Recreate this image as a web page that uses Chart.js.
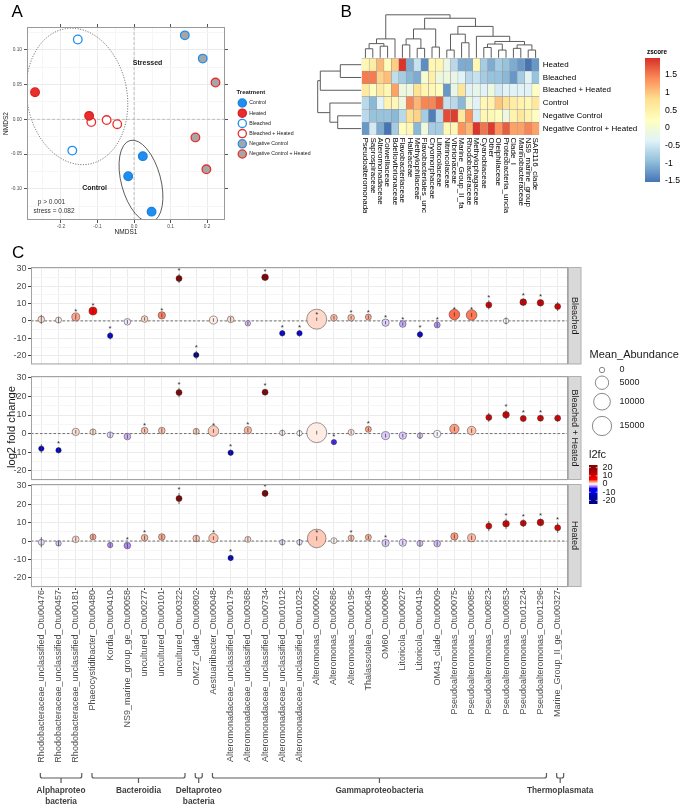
<!DOCTYPE html>
<html>
<head>
<meta charset="utf-8">
<script src="https://cdn.jsdelivr.net/npm/chart.js@4.4.1/dist/chart.umd.min.js"></script>
<style>
html, body { margin: 0; padding: 0; background: #fff; }
#page { position: relative; width: 685px; height: 808px; overflow: hidden; background: #fff; }
canvas { position: absolute; }
.tag { position: absolute; font: 17px "Liberation Sans", Arial, sans-serif; line-height: 17px; color: #000; }
#ytitle { position: absolute; left: 10.5px; top: 427px; transform: translate(-50%, -50%) rotate(-90deg);
  white-space: nowrap; font: 11.2px "Liberation Sans", Arial, sans-serif; color: #1a1a1a; }
</style>
</head>
<body>
<div id="page">
  <canvas id="nmds" style="left:0;top:0" width="316" height="240"></canvas>
  <canvas id="heat" style="left:300px;top:0" width="385" height="213"></canvas>
  <canvas id="c1" style="left:0;top:240px" width="685" height="135"></canvas>
  <canvas id="c3" style="left:0;top:474px" width="685" height="334"></canvas>
  <canvas id="c2" style="left:0;top:340px" width="685" height="170"></canvas>
  <div class="tag" style="left:11.5px;top:2.6px">A</div>
  <div class="tag" style="left:340.5px;top:2.6px">B</div>
  <div class="tag" style="left:12px;top:243.6px">C</div>
  <div id="ytitle">log2 fold change</div>
</div>
<script>
// ---------- panel A: NMDS ----------
const treatments = ['Control', 'Heated', 'Bleached', 'Bleached + Heated', 'Negative Control', 'Negative Control + Heated']
const sampleTreatment = ['Bleached', 'Bleached', 'Heated', 'Heated', 'Bleached + Heated', 'Bleached + Heated', 'Bleached + Heated',
  'Control', 'Control', 'Control', 'Negative Control', 'Negative Control',
  'Negative Control + Heated', 'Negative Control + Heated', 'Negative Control + Heated']
const nmds1 = [-0.154, -0.169, -0.271, -0.123, -0.117, -0.075, -0.046, 0.024, -0.016, 0.048, 0.139, 0.188, 0.223, 0.168, 0.198]
const nmds2 = [0.115, -0.045, 0.039, 0.005, -0.004, -0.001, -0.007, -0.053, -0.082, -0.133, 0.121, 0.0875, 0.053, -0.026, -0.072]
const nmdsXTicks = [-0.2, -0.1, 0, 0.1, 0.2]
const nmdsXTickLabels = ['-0.2', '-0.1', '0.0', '0.1', '0.2']
const nmdsYTicks = [-0.1, -0.05, 0, 0.05, 0.1]
const nmdsYTickLabels = ['-0.10', '-0.05', '0.00', '0.05', '0.10']
const nmdsNotes = [
  { text: 'Stressed', x: 0.037, y: 0.081, bold: true },
  { text: 'Control', x: -0.108, y: -0.0997, bold: true },
  { text: 'p > 0.001', x: -0.226, y: -0.119 },
  { text: 'stress = 0.082', x: -0.219, y: -0.132 }
]
const stressedEllipse = { cx: -0.156, cy: 0.033, rx: 0.137, ry: 0.099, rot: -10, dash: [1, 1.6] }
const controlEllipse = { cx: 0.019, cy: -0.089, rx: 0.054, ry: 0.0606, rot: -15, dash: [] }

// ---------- panel B: heatmap ----------
const heatRows = ['Heated', 'Bleached', 'Bleached + Heated', 'Control', 'Negative Control', 'Negative Control + Heated']
const heatCols = ['Pseudoalteromonadaceae', 'Saprospiraceae', 'Alteromonadaceae', 'Colwelliaceae', 'Bdellovibrionaceae',
  'Flavobacteriaceae', 'Halieaceae', 'Methylophilaceae', 'Flavobacteriales_unclassified', 'Cryomorphaceae', 'Litoricolaceae',
  'Nitrincolaceae', 'Vibrionaceae', 'Marine_Group_II_fa', 'Rhodobacteraceae', 'Methylophagaceae', 'Cyanobiaceae', 'Other',
  'Oleiphilaceae', 'Proteobacteria_unclassified', 'Clade_I', 'Marinobacteraceae', 'NS9_marine_group', 'SAR116_clade']
const zHeated = [0.35, 0.55, 1.1, 0.3, 0.95, 1.95, -1.1, -0.55, -1.35, 0.35, 0.4, -0.15, -0.65, -1.1, -1.1, 0.35, -0.8, -1.1, -0.8, -0.9, -1.1, -1.25, -1.53, -1.25]
const zBleached = [1.5, 1.5, 0.9, 1.05, -0.6, -0.8, -1.0, -1.1, 0.05, 0.5, -0.1, -0.1, -0.2, -0.35, -0.65, -0.55, -0.8, -0.9, -0.9, -1.0, -1.25, -0.8, -0.35, -0.9]
const zBleachedHeated = [0.6, 0.2, 0.6, 0.35, 1.25, -0.1, -0.1, 0.75, 0.4, 0.35, 0.2, -1.25, -0.2, 0.7, -0.35, -0.2, -0.35, -0.1, -0.45, -0.35, -0.35, -0.35, -0.35, 0.2]
const zControl = [-0.65, -1.0, -0.35, 0.45, 0.35, -0.1, 1.45, 1.1, 1.45, 1.45, 1.7, -0.55, -0.65, -1.0, -0.1, -0.35, 0.35, 0.45, 1.0, 0.8, 0.55, 0.45, 0.35, 0.65]
const zNegControl = [-0.65, -0.9, -0.9, -0.9, -1.0, -0.65, 0.8, 0.9, -0.8, -1.45, -0.65, 1.8, 1.9, 0.65, 1.35, -0.45, 0.35, 0.35, 0.2, -0.1, 0.45, 0.65, 0.45, 0.2]
const zNegControlHeated = [-1.25, -0.45, -1.1, -1.53, -0.8, 0.2, 0.35, -1.0, -0.1, -0.8, -0.8, 0.35, 0.35, 1.35, 1.1, 1.95, 1.55, 1.9, 1.35, 1.7, 1.25, 1.25, 1.45, 1.25]
const zscoreRange = [-1.53, 1.98]
const zscoreTicks = [-1.5, -1, -0.5, 0, 0.5, 1, 1.5]
const zscoreTickLabels = ['-1.5', '-1', '-0.5', '0', '0.5', '1', '1.5']
// dendrograms: [left, right, height], leaves are column / row indices
const colTree = [[[[0, 1, 2.1], [2, 3, 2.7], 3.3], 4, 4.4],
  [[[[5, 6, 3.0], [7, 8, 2.2], 4.4], [9, 10, 2.5], 6.7],
   [[[11, 12, 1.8], [13, 14, 3.5], 5.5],
    [15, [[[16, 17, 2.4], [18, 19, 1.8], 3.2], [[20, 21, 2.2], [22, 23, 1.8], 3.0], 3.8], 5.0], 7.3], 9.2], 10]
const rowTree = [[[0, 1, 4.8], 2, 9.4], [3, [4, 5, 5.4], 7.2], 10]

// ---------- panel C: log2 fold change ----------
const otuLabels = ['Rhodobacteraceae_unclassified_Otu00476', 'Rhodobacteraceae_unclassified_Otu00457',
  'Rhodobacteraceae_unclassified_Otu00181', 'Phaeocystidibacter_Otu00480', 'Kordia_Otu00410', 'NS9_marine_group_ge_Otu00058',
  'uncultured_Otu00277', 'uncultured_Otu00101', 'uncultured_Otu00322', 'OM27_clade_Otu00802', 'Aestuariibacter_Otu00048',
  'Alteromonadaceae_unclassified_Otu00179', 'Alteromonadaceae_unclassified_Otu00368', 'Alteromonadaceae_unclassified_Otu00734',
  'Alteromonadaceae_unclassified_Otu01012', 'Alteromonadaceae_unclassified_Otu01023', 'Alteromonas_Otu00002',
  'Alteromonas_Otu00686', 'Alteromonas_Otu00195', 'Thalassotalea_Otu00649', 'OM60_Otu00008', 'Litoricola_Otu00027',
  'Litoricola_Otu00419', 'OM43_clade_Otu00009', 'Pseudoalteromonas_Otu00075', 'Pseudoalteromonas_Otu00085',
  'Pseudoalteromonas_Otu00823', 'Pseudoalteromonas_Otu00853', 'Pseudoalteromonas_Otu01224', 'Pseudoalteromonas_Otu01296',
  'Marine_Group_II_ge_Otu00327']
const lfcBleached = [0.9, 0.5, 2.3, 5.7, -8.5, -0.5, 1.1, 3.2, 24.4, -19.6, 0.5, 0.9, -1.4, 25.1, -7.1, -7.1, 1.0, 1.8, 1.8, 2.2, -1.0, -1.8, -7.8, -2.3, 3.7, 3.4, 9.2, 0.0, 10.8, 10.4, 8.3]
const seBleached = [2.6, 1.6, 1.5, 1.6, 2.2, 1.2, 1.0, 1.2, 2.6, 2.4, 1.0, 1.4, 1.0, 1.8, 1.8, 1.8, 1.0, 1.0, 1.0, 1.0, 1.0, 1.0, 2.2, 1.2, 1.2, 1.2, 2.6, 2.0, 2.0, 1.6, 2.6]
const abundBleached = [120, 30, 530, 530, 0, 120, 120, 290, 30, 0, 530, 120, 0, 120, 0, 0, 16600, 120, 120, 30, 290, 120, 0, 30, 2170, 2170, 30, 0, 120, 120, 30]
const sigBleached = [0, 0, 1, 1, 1, 0, 0, 1, 1, 1, 0, 0, 0, 1, 1, 1, 1, 0, 1, 1, 1, 1, 1, 1, 1, 1, 1, 0, 1, 1, 0]
const lfcBleachedHeated = [-8.1, -9.0, 0.9, 0.9, -0.7, -1.6, 1.6, 1.6, 22.1, 1.2, 1.4, -10.3, 1.8, 22.3, 0.4, 0.2, 0.5, -4.6, 0.7, 2.3, -1.1, -1.1, -1.1, -0.2, 2.5, 1.6, 8.7, 10.1, 8.1, 8.3, 8.3]
const seBleachedHeated = [2.4, 1.6, 1.0, 1.4, 1.4, 1.2, 1.0, 1.2, 2.6, 1.4, 1.0, 1.6, 1.2, 1.6, 1.6, 1.8, 1.0, 1.2, 1.0, 1.0, 1.0, 1.0, 1.8, 1.0, 1.2, 1.2, 2.4, 2.4, 1.6, 1.4, 2.0]
const abundBleachedHeated = [0, 0, 290, 30, 30, 120, 120, 120, 30, 30, 2170, 0, 290, 30, 0, 0, 16600, 0, 30, 30, 530, 290, 0, 290, 1200, 830, 30, 120, 30, 30, 30]
const sigBleachedHeated = [0, 1, 0, 0, 0, 0, 1, 0, 1, 0, 1, 1, 1, 1, 0, 0, 0, 1, 0, 1, 0, 0, 0, 0, 0, 0, 0, 1, 1, 1, 0]
const lfcHeated = [-0.7, -1.3, 0.9, 2.2, -2.2, -2.5, 1.8, 2.2, 23.1, 1.4, 1.6, -9.2, 0.9, 25.9, -0.7, -0.7, 1.4, 0.2, 1.6, 2.0, -1.1, -0.9, -1.3, -1.4, 2.5, 1.8, 8.1, 9.4, 9.7, 10.1, 7.2]
const seHeated = [2.8, 1.4, 1.2, 1.2, 1.4, 1.4, 1.2, 1.2, 3.0, 1.6, 1.0, 1.6, 1.2, 1.8, 1.6, 1.8, 1.2, 1.2, 1.2, 1.0, 1.2, 1.2, 1.6, 1.2, 1.2, 1.2, 2.8, 2.8, 2.0, 2.0, 2.8]
const abundHeated = [30, 0, 120, 30, 0, 120, 120, 120, 30, 120, 1200, 0, 30, 30, 0, 0, 13700, 30, 30, 30, 290, 290, 30, 120, 290, 530, 30, 120, 30, 120, 30]
const sigHeated = [0, 0, 0, 0, 0, 1, 1, 0, 1, 0, 1, 1, 0, 1, 0, 0, 1, 0, 1, 0, 1, 0, 0, 0, 0, 0, 0, 1, 1, 1, 1]
const lfcTicks = [-20, -10, 0, 10, 20, 30]
const abundanceBreaks = [0, 5000, 10000, 15000]
const l2fcBreaks = [20, 10, 0, -10, -20]
const taxonGroups = ['Alphaproteo\nbacteria', 'Bacteroidia', 'Deltaproteo\nbacteria', 'Gammaproteobacteria', 'Thermoplasmata']
const taxonFirst = [0, 3, 9, 10, 30]
const taxonLast = [2, 8, 9, 29, 30]

// ---------- styles ----------
const FONT = '"Liberation Sans", Arial, sans-serif'
Chart.defaults.font.family = FONT
Chart.defaults.color = '#4d4d4d'
const BLUE = '#1f8ef1', RED = '#e92c2c', GREY = '#a6a6a6'
const treatmentFill = { 'Control': BLUE, 'Heated': RED, 'Bleached': '#fff', 'Bleached + Heated': '#fff', 'Negative Control': GREY, 'Negative Control + Heated': GREY }
const treatmentEdge = { 'Control': '#1b80e0', 'Heated': '#d92222', 'Bleached': BLUE, 'Bleached + Heated': RED, 'Negative Control': BLUE, 'Negative Control + Heated': RED }
const zscorePalette = ['#4575B4', '#91BFDB', '#E0F3F8', '#FFFFBF', '#FEE090', '#FC8D59', '#D73027']
const l2fcStops = [[-20, '#00008B'], [-5, '#0000FF'], [0, '#FFFFFF'], [5, '#FF0000'], [20, '#8B0000']]

function hexRgb(h) { const n = parseInt(h.slice(1), 16); return [n >> 16 & 255, n >> 8 & 255, n & 255] }
function rgbLab([r, g, b]) {
  const f = c => { c /= 255; return c <= 0.04045 ? c / 12.92 : Math.pow((c + 0.055) / 1.055, 2.4) }
  const R = f(r), G = f(g), B = f(b)
  const g3 = t => t > 0.008856 ? Math.cbrt(t) : 7.787 * t + 16 / 116
  const X = g3((R * 0.4124 + G * 0.3576 + B * 0.1805) / 0.95047)
  const Y = g3(R * 0.2126 + G * 0.7152 + B * 0.0722)
  const Z = g3((R * 0.0193 + G * 0.1192 + B * 0.9505) / 1.08883)
  return [116 * Y - 16, 500 * (X - Y), 200 * (Y - Z)]
}
function labRgb([L, a, b]) {
  const fy = (L + 16) / 116, fx = a / 500 + fy, fz = fy - b / 200
  const h = t => t * t * t > 0.008856 ? t * t * t : (t - 16 / 116) / 7.787
  const X = h(fx) * 0.95047, Y = h(fy), Z = h(fz) * 1.08883
  const R = X * 3.2406 - Y * 1.5372 - Z * 0.4986
  const G = -X * 0.9689 + Y * 1.8758 + Z * 0.0415
  const B = X * 0.0557 - Y * 0.2040 + Z * 1.0570
  const f = c => { c = c > 0.0031308 ? 1.055 * Math.pow(c, 1 / 2.4) - 0.055 : 12.92 * c; return Math.round(Math.min(1, Math.max(0, c)) * 255) }
  return `rgb(${f(R)},${f(G)},${f(B)})`
}
const l2fcLab = l2fcStops.map(s => rgbLab(hexRgb(s[1])))
function l2fcColor(v) {
  const vs = l2fcStops.map(s => s[0])
  if (v <= vs[0]) return labRgb(l2fcLab[0])
  if (v >= vs[vs.length - 1]) return labRgb(l2fcLab[vs.length - 1])
  let i = 0
  while (v > vs[i + 1]) i++
  const t = (v - vs[i]) / (vs[i + 1] - vs[i])
  return labRgb(l2fcLab[i].map((c, k) => c + (l2fcLab[i + 1][k] - c) * t))
}
function zColor(z) {
  let t = (z - zscoreRange[0]) / (zscoreRange[1] - zscoreRange[0])
  t = Math.min(1, Math.max(0, t)) * (zscorePalette.length - 1)
  const i = Math.min(Math.floor(t), zscorePalette.length - 2), f = t - i
  const a = hexRgb(zscorePalette[i]), b = hexRgb(zscorePalette[i + 1])
  return `rgb(${a.map((c, k) => Math.round(c + (b[k] - c) * f)).join(',')})`
}
// ggplot area palette for Mean_Abundance
function sizeFor(v) { return 2.7 + 0.0566 * Math.sqrt(v) }

function withMinors(majors, min, max) {
  const step = majors[1] - majors[0]
  const vals = [...majors]
  for (let i = -1; i < majors.length; i++) {
    const m = (i < 0 ? majors[0] - step : majors[i]) + step / 2
    if (m >= min - 1e-9 && m <= max + 1e-9) vals.push(m)
  }
  return vals.sort((a, b) => a - b).map(v => ({ value: +v.toFixed(6) }))
}
const isMajor = (v, majors) => majors.some(t => Math.abs(t - v) < 1e-6)

// ---------- chart A ----------
const nmdsDecor = {
  id: 'nmdsDecor',
  beforeDatasetsDraw(chart) {
    const { ctx, chartArea: a, scales: { x, y } } = chart
    ctx.save()
    ctx.beginPath(); ctx.rect(a.left, a.top, a.width, a.height); ctx.clip()
    ctx.strokeStyle = '#b5b5b5'; ctx.lineWidth = 0.8; ctx.setLineDash([3, 2])
    ctx.beginPath()
    ctx.moveTo(x.getPixelForValue(0), a.top); ctx.lineTo(x.getPixelForValue(0), a.bottom)
    ctx.moveTo(a.left, y.getPixelForValue(0)); ctx.lineTo(a.right, y.getPixelForValue(0))
    ctx.stroke()
    const kx = a.width / (x.max - x.min), ky = a.height / (y.max - y.min)
    for (const e of [stressedEllipse, controlEllipse]) {
      ctx.setLineDash(e.dash); ctx.strokeStyle = '#333'; ctx.lineWidth = 0.8
      ctx.beginPath()
      ctx.ellipse(x.getPixelForValue(e.cx), y.getPixelForValue(e.cy), e.rx * kx, e.ry * ky, e.rot * Math.PI / 180, 0, 2 * Math.PI)
      ctx.stroke()
    }
    ctx.restore()
  },
  afterDraw(chart) {
    const { ctx, chartArea: a, scales: { x, y } } = chart
    ctx.save()
    ctx.strokeStyle = '#9a9a9a'; ctx.lineWidth = 1
    ctx.strokeRect(a.left + 0.5, a.top + 0.5, a.width - 1, a.height - 1)
    ctx.textAlign = 'center'; ctx.textBaseline = 'middle'; ctx.fillStyle = '#1a1a1a'
    for (const n of nmdsNotes) {
      ctx.font = n.bold ? `bold 7px ${FONT}` : `6.5px ${FONT}`
      ctx.fillStyle = n.bold ? '#1a1a1a' : '#333'
      ctx.fillText(n.text, x.getPixelForValue(n.x), y.getPixelForValue(n.y))
    }
    ctx.textAlign = 'left'
    ctx.font = `bold 6px ${FONT}`; ctx.fillStyle = '#1a1a1a'
    ctx.fillText('Treatment', 236.5, 92)
    chart.data.datasets.forEach((ds, k) => {
      const yy = 103 + k * 10.2
      ctx.beginPath(); ctx.arc(242.3, yy, 4.1, 0, 2 * Math.PI)
      ctx.fillStyle = ds.pointBackgroundColor; ctx.fill()
      ctx.lineWidth = ds.pointBorderWidth; ctx.strokeStyle = ds.pointBorderColor; ctx.stroke()
      ctx.font = `5.2px ${FONT}`; ctx.fillStyle = '#1a1a1a'
      ctx.fillText(ds.label, 249.3, yy)
    })
    ctx.restore()
  }
}

new Chart(document.getElementById('nmds'), {
  type: 'scatter',
  data: {
    datasets: treatments.map(t => ({
      label: t,
      data: nmds1.map((x, i) => ({ x, y: nmds2[i] })).filter((p, i) => sampleTreatment[i] === t),
      pointRadius: 4.3, pointBackgroundColor: treatmentFill[t], pointBorderColor: treatmentEdge[t], pointBorderWidth: 1.3
    }))
  },
  options: {
    devicePixelRatio: 1, responsive: false, animation: false, events: [],
    layout: { padding: { top: 24, right: 88, left: 0, bottom: 0 } },
    plugins: { legend: { display: false }, tooltip: { enabled: false } },
    scales: {
      x: {
        type: 'linear', min: -0.293, max: 0.249,
        afterBuildTicks: s => { s.ticks = withMinors(nmdsXTicks, s.min, s.max) },
        afterFit: s => { s.height = 20 },
        border: { display: false },
        grid: { color: c => isMajor(c.tick.value, nmdsXTicks) ? '#ebebeb' : '#f6f6f6', tickLength: 3,
          tickColor: c => isMajor(c.tick.value, nmdsXTicks) ? '#555' : 'rgba(0,0,0,0)' },
        ticks: { autoSkip: false, maxRotation: 0, padding: 1, color: '#4d4d4d', font: { size: 4.8 },
          callback: v => { const k = nmdsXTicks.findIndex(t => Math.abs(t - v) < 1e-6); return k < 0 ? '' : nmdsXTickLabels[k] } },
        title: { display: true, text: 'NMDS1', color: '#1a1a1a', font: { size: 6.5 }, padding: { top: 0, bottom: 4 } }
      },
      y: {
        type: 'linear', min: -0.145, max: 0.133,
        afterBuildTicks: s => { s.ticks = withMinors(nmdsYTicks, s.min, s.max) },
        afterFit: s => { s.width = 27 },
        border: { display: false },
        grid: { color: c => isMajor(c.tick.value, nmdsYTicks) ? '#ebebeb' : '#f6f6f6', tickLength: 3,
          tickColor: c => isMajor(c.tick.value, nmdsYTicks) ? '#555' : 'rgba(0,0,0,0)' },
        ticks: { autoSkip: false, padding: 2, color: '#4d4d4d', font: { size: 4.8 },
          callback: v => { const k = nmdsYTicks.findIndex(t => Math.abs(t - v) < 1e-6); return k < 0 ? '' : nmdsYTickLabels[k] } },
        title: { display: true, text: 'NMDS2', color: '#1a1a1a', font: { size: 6.5 }, padding: { top: 2, bottom: 0 } }
      },
      xTop: {
        type: 'linear', position: 'top', min: -0.293, max: 0.249,
        afterBuildTicks: s => { s.ticks = nmdsXTicks.map(v => ({ value: v })) },
        afterFit: s => { s.height = 3 },
        border: { display: false },
        grid: { drawOnChartArea: false, tickLength: 3, tickColor: '#555' }, ticks: { display: false }
      },
      yRight: {
        type: 'linear', position: 'right', min: -0.145, max: 0.133,
        afterBuildTicks: s => { s.ticks = nmdsYTicks.map(v => ({ value: v })) },
        afterFit: s => { s.width = 3 },
        border: { display: false },
        grid: { drawOnChartArea: false, tickLength: 3, tickColor: '#555' }, ticks: { display: false }
      }
    }
  },
  plugins: [nmdsDecor]
})

// ---------- chart B ----------
const zscores = [zHeated, zBleached, zBleachedHeated, zControl, zNegControl, zNegControlHeated]

function drawTree(ctx, node, leafPos, hPos, horizontal) {
  const seg = (p1, h1, p2, h2) => {
    if (horizontal) { ctx.moveTo(hPos(h1), p1); ctx.lineTo(hPos(h2), p2) }
    else { ctx.moveTo(p1, hPos(h1)); ctx.lineTo(p2, hPos(h2)) }
  }
  const walk = n => {
    if (typeof n === 'number') return { p: leafPos(n), h: 0 }
    const A = walk(n[0]), B = walk(n[1]), h = n[2]
    seg(A.p, A.h, A.p, h); seg(A.p, h, B.p, h); seg(B.p, h, B.p, B.h)
    return { p: (A.p + B.p) / 2, h }
  }
  ctx.beginPath(); walk(node); ctx.stroke()
}

const heatDecor = {
  id: 'heatDecor',
  afterDraw(chart) {
    const { ctx, chartArea: a, scales: { x, y } } = chart
    ctx.save()
    ctx.font = `8px ${FONT}`; ctx.fillStyle = '#000'; ctx.textAlign = 'left'; ctx.textBaseline = 'middle'
    heatCols.forEach((c, j) => {
      ctx.save(); ctx.translate(x.getPixelForValue(j + 0.5), a.bottom + 2.5); ctx.rotate(Math.PI / 2)
      ctx.fillText(c, 0, 0); ctx.restore()
    })
    ctx.strokeStyle = '#5c5c5c'; ctx.lineWidth = 1
    drawTree(ctx, colTree, j => x.getPixelForValue(j + 0.5), h => a.top - 0.5 - h / 10 * 43, false)
    drawTree(ctx, rowTree, i => y.getPixelForValue(i), h => a.left - 0.5 - h / 10 * 43.5, true)
    // zscore colour bar
    const bx = 345, bw = 15, top = 58, bot = 182
    const [zmin, zmax] = zscoreRange
    for (let yy = top; yy < bot; yy++) {
      ctx.fillStyle = zColor(zmax - (yy + 0.5 - top) / (bot - top) * (zmax - zmin))
      ctx.fillRect(bx, yy, bw, 1)
    }
    ctx.font = `bold 6.3px ${FONT}`; ctx.fillStyle = '#000'
    ctx.fillText('zscore', 347, 52)
    ctx.font = `8.7px ${FONT}`
    zscoreTicks.forEach((v, k) => {
      ctx.fillText(zscoreTickLabels[k], 365, bot - (v - zmin) / (zmax - zmin) * (bot - top))
    })
    ctx.restore()
  }
}

new Chart(document.getElementById('heat'), {
  type: 'bar',
  data: {
    labels: heatRows,
    datasets: heatCols.map((c, j) => ({
      label: c,
      data: heatRows.map(() => [j, j + 1]),
      backgroundColor: zscores.map(row => zColor(row[j])),
      borderColor: '#9a9a9a', borderWidth: 0.5, borderSkipped: false,
      barPercentage: 1, categoryPercentage: 1, grouped: false
    }))
  },
  options: {
    indexAxis: 'y', devicePixelRatio: 1, responsive: false, animation: false, events: [],
    layout: { padding: { left: 61.7, top: 58.3, bottom: 78, right: 45.7 } },
    plugins: { legend: { display: false }, tooltip: { enabled: false } },
    scales: {
      x: { type: 'linear', min: 0, max: heatCols.length, display: false },
      y: {
        position: 'right', grid: { display: false, drawTicks: false }, border: { display: false },
        ticks: { color: '#000', font: { size: 8 }, padding: 3.5 },
        afterFit: s => { s.width = 100 }
      }
    }
  },
  plugins: [heatDecor]
})

// ---------- chart C ----------
function facetPlugin(name, lfc, se, sig, canvasTop, extras) {
  return {
    id: 'facet',
    beforeDatasetsDraw(chart) {
      const { ctx, chartArea: a, scales: { y } } = chart
      const y0 = y.getPixelForValue(0)
      ctx.save(); ctx.strokeStyle = '#707070'; ctx.lineWidth = 1; ctx.setLineDash([2.5, 2])
      ctx.beginPath(); ctx.moveTo(a.left, y0); ctx.lineTo(a.right, y0); ctx.stroke(); ctx.restore()
    },
    afterDatasetsDraw(chart) {
      const { ctx, scales: { x, y } } = chart
      ctx.save()
      ctx.strokeStyle = '#333'; ctx.lineWidth = 0.7
      ctx.beginPath()
      lfc.forEach((v, i) => {
        const px = x.getPixelForValue(i)
        ctx.moveTo(px, y.getPixelForValue(v - se[i])); ctx.lineTo(px, y.getPixelForValue(v + se[i]))
      })
      ctx.stroke()
      ctx.fillStyle = '#333'; ctx.font = `8px ${FONT}`; ctx.textAlign = 'center'; ctx.textBaseline = 'alphabetic'
      lfc.forEach((v, i) => { if (sig[i]) ctx.fillText('*', x.getPixelForValue(i), y.getPixelForValue(v + se[i] + 3) + 4.6) })
      ctx.restore()
    },
    afterDraw(chart) {
      const { ctx, chartArea: a } = chart
      ctx.save()
      ctx.strokeStyle = '#a3a3a3'; ctx.lineWidth = 1
      ctx.strokeRect(a.left + 0.5, a.top + 0.5, a.width - 1, a.height - 1)
      ctx.fillStyle = '#d9d9d9'; ctx.fillRect(a.right, a.top, 13, a.height)
      ctx.strokeStyle = '#b0b0b0'; ctx.strokeRect(a.right + 0.5, a.top + 0.5, 12.5, a.height - 1)
      ctx.save(); ctx.translate(a.right + 6.5, (a.top + a.bottom) / 2); ctx.rotate(Math.PI / 2)
      ctx.fillStyle = '#1a1a1a'; ctx.font = `9px ${FONT}`; ctx.textAlign = 'center'; ctx.textBaseline = 'middle'
      ctx.fillText(name, 0, 0.5); ctx.restore()
      if (extras) extras(chart, ctx, canvasTop)
      ctx.restore()
    }
  }
}

function drawFacetLegends(chart, ctx, top) {
  ctx.textAlign = 'left'; ctx.textBaseline = 'middle'; ctx.fillStyle = '#1a1a1a'
  ctx.font = `11px ${FONT}`
  ctx.fillText('Mean_Abundance', 589.5, 355 - top)
  const keyY = [370, 382.7, 401.7, 426]
  abundanceBreaks.forEach((v, k) => {
    ctx.beginPath(); ctx.arc(602, keyY[k] - top, sizeFor(v), 0, 2 * Math.PI)
    ctx.fillStyle = '#fff'; ctx.fill(); ctx.strokeStyle = '#6a6a6a'; ctx.lineWidth = 0.8; ctx.stroke()
    ctx.fillStyle = '#1a1a1a'; ctx.font = `9px ${FONT}`
    ctx.fillText(String(v), 619.5, keyY[k] - top)
  })
  ctx.font = `11px ${FONT}`
  ctx.fillText('l2fc', 589, 455 - top)
  const bx = 589, bw = 8.5, btop = 465, bbot = 504, zeroY = 484, perUnit = 0.82
  for (let yy = btop; yy < bbot; yy++) {
    ctx.fillStyle = l2fcColor((zeroY - (yy + 0.5)) / perUnit)
    ctx.fillRect(bx, yy - top, bw, 1)
  }
  ctx.font = `9px ${FONT}`; ctx.fillStyle = '#1a1a1a'
  ctx.strokeStyle = '#fff'; ctx.lineWidth = 0.6
  l2fcBreaks.forEach(v => {
    const yy = zeroY - v * perUnit - top
    ctx.beginPath(); ctx.moveTo(bx, yy); ctx.lineTo(bx + 1.8, yy); ctx.moveTo(bx + bw - 1.8, yy); ctx.lineTo(bx + bw, yy); ctx.stroke()
    ctx.fillText(String(v), 602.5, yy)
  })
}

function drawTaxonBrackets(chart, ctx, top) {
  const x = chart.scales.x
  ctx.strokeStyle = '#5a5a5a'; ctx.lineWidth = 1.2; ctx.fillStyle = '#404040'
  ctx.font = `bold 8.3px ${FONT}`; ctx.textAlign = 'center'; ctx.textBaseline = 'middle'
  taxonGroups.forEach((g, k) => {
    const x1 = x.getPixelForValue(taxonFirst[k]) - 1, x2 = x.getPixelForValue(taxonLast[k]) + 6, cx = (x1 + x2) / 2
    const yt = 773 - top, yb = 778 - top
    ctx.beginPath()
    ctx.moveTo(x1, yt); ctx.lineTo(x1, yb - 2); ctx.quadraticCurveTo(x1, yb, x1 + 2, yb)
    ctx.lineTo(x2 - 2, yb); ctx.quadraticCurveTo(x2, yb, x2, yb - 2); ctx.lineTo(x2, yt)
    ctx.moveTo(cx, yb); ctx.lineTo(cx, yb + 5)
    ctx.stroke()
    g.split('\n').forEach((line, j) => ctx.fillText(line, cx, 791 - top + j * 11))
  })
}

function facetChart(id, name, lfc, se, abund, sig, cfg) {
  return new Chart(document.getElementById(id), {
    type: 'bubble',
    data: {
      datasets: [{
        data: lfc.map((v, i) => ({ x: i, y: v, r: sizeFor(abund[i]) })),
        backgroundColor: lfc.map(l2fcColor),
        borderColor: 'rgba(45,45,45,0.8)', borderWidth: 0.6
      }]
    },
    options: {
      devicePixelRatio: 1, responsive: false, animation: false, events: [],
      layout: { padding: { top: cfg.top, bottom: cfg.bottom, left: 0, right: 117 } },
      plugins: { legend: { display: false }, tooltip: { enabled: false } },
      scales: {
        x: {
          type: 'linear', min: -0.6, max: otuLabels.length - 0.4,
          afterBuildTicks: s => { s.ticks = otuLabels.map((_, i) => ({ value: i })) },
          afterFit: s => { s.height = cfg.xHeight },
          border: { display: false },
          grid: { color: '#ebebeb', drawTicks: cfg.showX, tickLength: 3, tickColor: '#444' },
          ticks: { display: cfg.showX, autoSkip: false, minRotation: 90, maxRotation: 90, padding: 0,
            color: '#4d4d4d', font: { size: 9 }, callback: v => otuLabels[v] }
        },
        y: {
          type: 'linear', min: -25, max: 31,
          afterBuildTicks: s => { s.ticks = withMinors(lfcTicks, s.min, s.max) },
          afterFit: s => { s.width = 31 },
          border: { display: false },
          grid: { color: c => isMajor(c.tick.value, lfcTicks) ? '#ebebeb' : '#f6f6f6', tickLength: 3,
            tickColor: c => isMajor(c.tick.value, lfcTicks) ? '#444' : 'rgba(0,0,0,0)' },
          ticks: { autoSkip: false, padding: 1.5, color: '#4d4d4d', font: { size: 9 },
            callback: v => isMajor(v, lfcTicks) ? String(v) : '' }
        }
      }
    },
    plugins: [facetPlugin(name, lfc, se, sig, cfg.canvasTop, cfg.extras)]
  })
}

facetChart('c1', 'Bleached', lfcBleached, seBleached, abundBleached, sigBleached,
  { top: 27, bottom: 4, xHeight: 0, showX: false, canvasTop: 240 })
facetChart('c2', 'Bleached + Heated', lfcBleachedHeated, seBleachedHeated, abundBleachedHeated, sigBleachedHeated,
  { top: 36, bottom: 30, xHeight: 0, showX: false, canvasTop: 340, extras: drawFacetLegends })
facetChart('c3', 'Heated', lfcHeated, seHeated, abundHeated, sigHeated,
  { top: 10, bottom: 0, xHeight: 221, showX: true, canvasTop: 474, extras: drawTaxonBrackets })
</script>
</body>
</html>
